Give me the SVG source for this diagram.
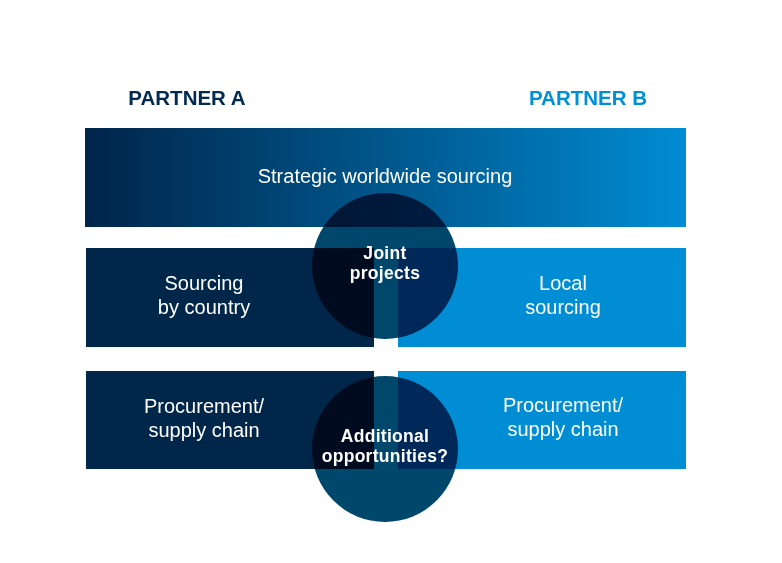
<svg xmlns="http://www.w3.org/2000/svg" width="782" height="563" viewBox="0 0 782 563">
<style>
.t{font-family:"Liberation Sans",Arial,sans-serif;font-size:20px;fill:#fff;text-anchor:middle}
.b{font-family:"Liberation Sans",Arial,sans-serif;font-size:17.5px;font-weight:bold;fill:#fff;text-anchor:middle}
.h{font-family:"Liberation Sans",Arial,sans-serif;font-size:20.5px;font-weight:bold}
.navy{fill:#00264a}
.blue{fill:#008dd4}
.circ{fill:#00486b;mix-blend-mode:multiply}
</style>
<defs>
<linearGradient id="g" x1="0" y1="0" x2="1" y2="0">
<stop offset="0" stop-color="#00244a"/>
<stop offset="0.5" stop-color="#00578c"/>
<stop offset="1" stop-color="#008cd3"/>
</linearGradient>
</defs>
<rect width="782" height="563" fill="#fff"/>
<g id="labels">
<text class="h" x="187" y="105" fill="#002a4f" text-anchor="middle">PARTNER A</text>
<text class="h" x="588" y="105" fill="#0090d8" text-anchor="middle">PARTNER B</text>
</g>
<g id="strategic"><rect x="85" y="128" width="601" height="99" fill="url(#g)"/></g>
<g id="sourcing-country"><rect class="navy" x="86" y="248" width="288" height="99"/></g>
<g id="local-sourcing"><rect class="blue" x="398" y="248" width="288" height="99"/></g>
<g id="procurement-a"><rect class="navy" x="86" y="371" width="288" height="98"/></g>
<g id="procurement-b"><rect class="blue" x="398" y="371" width="288" height="98"/></g>
<g id="joint"><circle class="circ" cx="385" cy="266" r="73"/></g>
<g id="additional"><circle class="circ" cx="385" cy="449" r="73"/></g>
<g id="texts">
<text class="t" x="385" y="183">Strategic worldwide sourcing</text>
<text class="t" x="204" y="290">Sourcing</text>
<text class="t" x="204" y="314">by country</text>
<text class="t" x="563" y="290">Local</text>
<text class="t" x="563" y="314">sourcing</text>
<text class="t" x="204" y="413">Procurement/</text>
<text class="t" x="204" y="437">supply chain</text>
<text class="t" x="563" y="412">Procurement/</text>
<text class="t" x="563" y="436">supply chain</text>
<text class="b" x="385" y="259" letter-spacing="0.3">Joint</text>
<text class="b" x="385" y="279" letter-spacing="0.3">projects</text>
<text class="b" x="385" y="442" letter-spacing="0.3">Additional</text>
<text class="b" x="385" y="462" letter-spacing="0.3">opportunities?</text>
</g>
<g id="connectors"/>
</svg>
